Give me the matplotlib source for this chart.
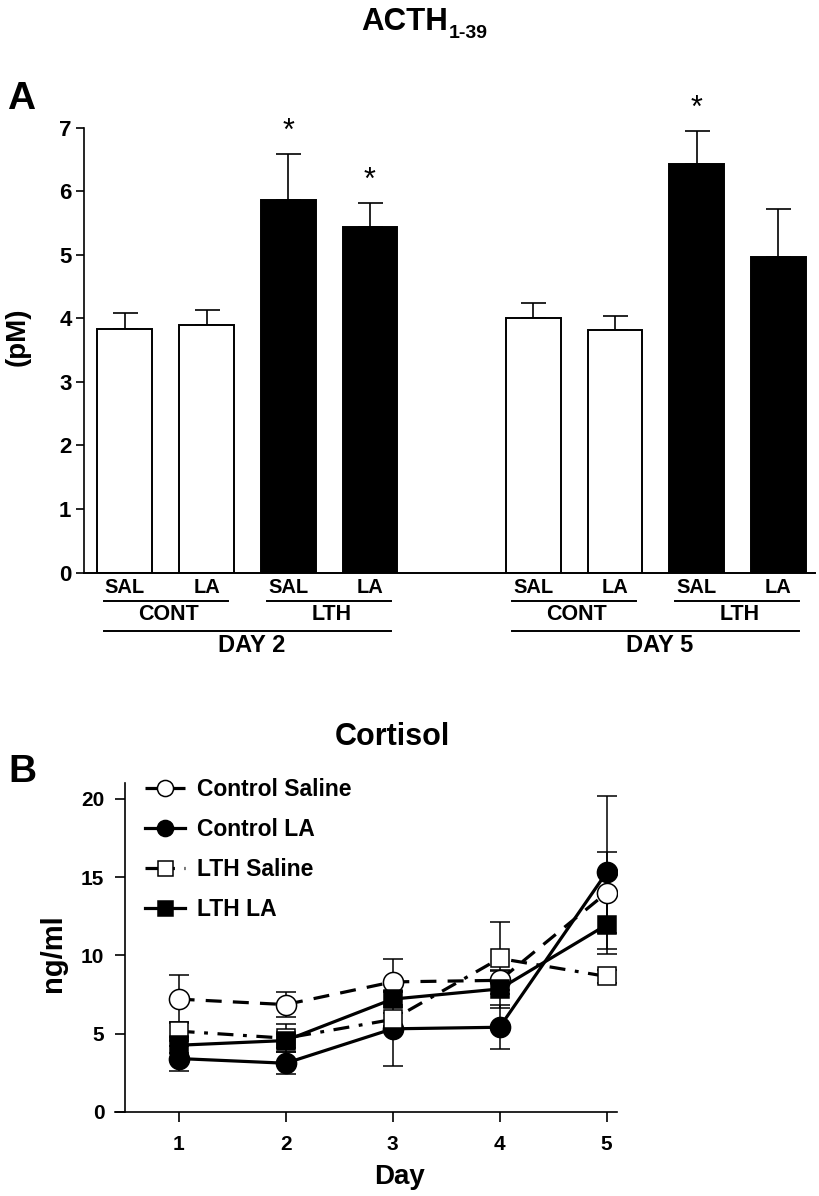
import numpy as np
import matplotlib
matplotlib.use("Agg")
from matplotlib import pyplot as plt
from matplotlib.lines import Line2D
from matplotlib.transforms import blended_transform_factory

# ---- data, panel A (ACTH 1-39, pM) ----
acth_treat = ["SAL", "LA", "SAL", "LA", "SAL", "LA", "SAL", "LA"]
acth_group = ["CONT", "LTH", "CONT", "LTH"]
acth_day = ["DAY 2", "DAY 5"]
acth_mean = [3.84, 3.89, 5.86, 5.43, 4.01, 3.82, 6.43, 4.97]
acth_sem = [0.24, 0.24, 0.72, 0.38, 0.23, 0.22, 0.52, 0.75]
acth_sig = [False, False, True, True, False, False, True, False]
acth_fill = ["white", "white", "black", "black", "white", "white", "black", "black"]

# ---- data, panel B (cortisol, ng/ml) ----
days = [1, 2, 3, 4, 5]
cs_mean = [7.2, 6.85, 8.3, 8.4, 14.0]
cs_sem = [1.55, 0.8, 1.45, 0.6, 2.6]
cla_mean = [3.4, 3.1, 5.3, 5.4, 15.3]
cla_sem = [0.8, 0.7, 2.35, 1.4, 4.9]
ls_mean = [5.15, 4.7, 5.9, 9.8, 8.65]
ls_sem = [0.6, 0.9, 0.4, 2.3, 0.4]
lla_mean = [4.25, 4.55, 7.2, 7.85, 11.95]
lla_sem = [0.5, 0.45, 0.5, 1.2, 1.85]

FONT = ["Liberation Sans", "DejaVu Sans"]

W, H = 819, 1196
fig = plt.figure(figsize=(W / 100, H / 100), dpi=100)

def fx(x):
    return x / W

def fy(y):
    return 1 - y / H

# ================= panel A =================
axA = fig.add_axes([fx(84), fy(572.6), fx(815 - 84), (572.6 - 127.7) / H])
pos = np.array([0, 1, 2, 3, 5, 6, 7, 8])
axA.bar(pos, acth_mean, width=0.67, color=acth_fill, edgecolor="black",
        linewidth=1.4, zorder=2)
axA.errorbar(pos, acth_mean, yerr=[np.zeros(8), acth_sem], fmt="none",
             ecolor="black", elinewidth=1.2, capsize=9, capthick=1.2, zorder=1)
for p, m, s, sig in zip(pos, acth_mean, acth_sem, acth_sig):
    if sig:
        axA.annotate("*", (p, m + s), xytext=(0, 16), textcoords="offset points",
                     ha="center", va="center", fontsize=22, family=FONT,
                     annotation_clip=False)
axA.set_xlim(-0.5, 8.45)
axA.set_ylim(0, 7)
axA.set_xticks([])
axA.set_yticks(range(8))
axA.spines[["top", "right"]].set_visible(False)
axA.spines["left"].set_linewidth(1.2)
axA.spines["bottom"].set_linewidth(1.4)
axA.tick_params(axis="y", length=6, width=1.2, pad=3)
for lab in axA.get_yticklabels():
    lab.set_family(FONT)
    lab.set_fontweight("bold")
    lab.set_fontsize(16)

# labels under bars
tr = blended_transform_factory(axA.transData, fig.transFigure)
for p, t in zip(pos, acth_treat):
    axA.text(p, fy(587.5), t, transform=tr, ha="center", va="center",
             fontsize=14.5, fontweight="bold", family=FONT)
grp_c = [0.5, 2.5, 5.5, 7.5]
for c, g in zip(grp_c, acth_group):
    axA.add_line(Line2D([c - 0.76, c + 0.76], [fy(600.5)] * 2, transform=tr,
                        color="black", lw=1.4, clip_on=False))
    axA.text(c + 0.03, fy(614.5), g, transform=tr, ha="center", va="center",
             fontsize=15.5, fontweight="bold", family=FONT)
for c, d in zip([1.5, 6.5], acth_day):
    axA.add_line(Line2D([c - 1.76, c + 1.76], [fy(631)] * 2, transform=tr,
                        color="black", lw=1.4, clip_on=False))
    axA.text(c + 0.05, fy(645), d, transform=tr, ha="center", va="center",
             fontsize=17, fontweight="bold", family=FONT)

fig.text(fx(18), fy(337), "(pM)", rotation=90, ha="center", va="center",
         fontsize=20, fontweight="bold", family=FONT)
fig.text(fx(448), fy(22), "ACTH", ha="right", va="center", fontsize=22.5,
         fontweight="bold", family=FONT)
fig.text(fx(449), fy(34), "1-39", ha="left", va="center", fontsize=14,
         fontweight="bold", family=FONT)
fig.text(fx(7), fy(99), "A", ha="left", va="center", fontsize=28,
         fontweight="bold", family=FONT)

# ================= panel B =================
axB = fig.add_axes([fx(125.1), fy(1111.7), fx(492.2), (1111.7 - 783.3) / H])
series = [
    ("Control Saline", cs_mean, cs_sem, "o", "white", (0, (5, 3.5))),
    ("Control LA", cla_mean, cla_sem, "o", "black", "-"),
    ("LTH Saline", ls_mean, ls_sem, "s", "white", (0, (5, 3, 1.2, 3))),
    ("LTH LA", lla_mean, lla_sem, "s", "black", "-"),
]
for name, m, s, mk, fc, ls in series:
    axB.errorbar(days, m, yerr=s, fmt="none", ecolor="black", elinewidth=1.1,
                 capsize=7, capthick=1.1, zorder=2)
for name, m, s, mk, fc, ls in series:
    axB.plot(days, m, linestyle=ls, color="black", lw=2.3, marker=mk,
             markersize=14.5 if mk == "o" else 13.5, markerfacecolor=fc,
             markeredgecolor="black", markeredgewidth=1.1, label=name, zorder=3)
axB.set_xlim(0.5, 5.1)
axB.set_ylim(0, 21)
axB.set_xticks(days)
axB.set_yticks([0, 5, 10, 15, 20])
axB.spines[["top", "right"]].set_visible(False)
axB.spines["bottom"].set_bounds(0.41, 5.1)
axB.spines["left"].set_linewidth(1.2)
axB.spines["bottom"].set_linewidth(1.2)
axB.tick_params(axis="y", length=7, width=1.2, pad=8)
axB.tick_params(axis="x", length=7, width=1.2, pad=10)
for lab in axB.get_yticklabels() + axB.get_xticklabels():
    lab.set_family(FONT)
    lab.set_fontweight("bold")
    lab.set_fontsize(15)

leg = axB.legend(loc="upper left", bbox_to_anchor=(fx(145), fy(778)),
                 bbox_transform=fig.transFigure, frameon=False, borderpad=0,
                 borderaxespad=0, handlelength=1.75, handletextpad=0.5,
                 labelspacing=0.74, markerscale=0.8,
                 prop={"family": FONT, "weight": "bold", "size": 16.5})

fig.text(fx(392), fy(737), "Cortisol", ha="center", va="center", fontsize=22,
         fontweight="bold", family=FONT)
fig.text(fx(53), fy(953), "ng/ml", rotation=90, ha="center", va="center",
         fontsize=21, fontweight="bold", family=FONT)
fig.text(fx(400), fy(1177), "Day", ha="center", va="center", fontsize=20,
         fontweight="bold", family=FONT)
fig.text(fx(8), fy(772), "B", ha="left", va="center", fontsize=28,
         fontweight="bold", family=FONT)

fig.savefig("out.png", dpi=100)
